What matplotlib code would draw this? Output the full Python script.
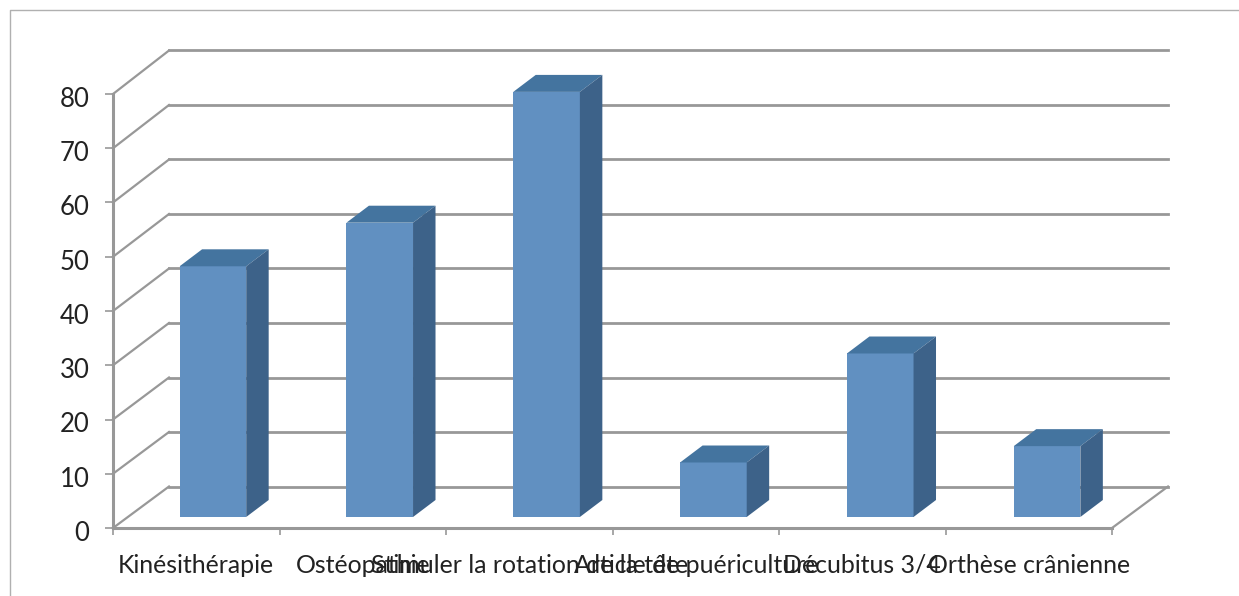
import matplotlib
matplotlib.use("Agg")
import matplotlib.pyplot as plt
import numpy as np
from matplotlib.lines import Line2D
from matplotlib.transforms import ScaledTranslation

categories = ['Kinésithérapie', 'Ostéopathie', 'Stimuler la rotation de la tête',
              'Article de puériculture', 'Décubitus 3/4', 'Orthèse crânienne']
values = [46, 54, 78, 10, 30, 13]
y_ticks = [0, 10, 20, 30, 40, 50, 60, 70, 80]

W, H = 1239, 596
GRID = '#989898'
FRONT = '#6190C1'
TOP = '#44749F'
SIDE = '#3D6289'

plt.rcParams['font.family'] = ['Lato', 'DejaVu Sans']

fig = plt.figure(figsize=(W / 100, H / 100), dpi=100)
# plot floor front edge runs 113..1112 px, value 0..80 runs 528..94 px
ax = fig.add_axes([113 / W, 1 - 528 / H, (1112 - 113) / W, (528 - 94) / H])
ax.set_xlim(0, len(categories))
ax.set_ylim(0, 80)
ax.patch.set_visible(False)

# depth of the fake 3d box, in data units
depth_x = 56 / (999 / 6)
depth_y = 41.5 / (434 / 80)
# back wall and bars are drawn a little taller than the front axis
back_scale = 436 / 434

# back wall and diagonal grid
for v in y_ticks:
    back_y = v * back_scale + depth_y
    ax.plot([0, depth_x], [v, back_y], color=GRID, lw=1.6, clip_on=False, zorder=1)
    ax.plot([depth_x, len(categories) + depth_x], [back_y, back_y],
            color=GRID, lw=2.0, clip_on=False, zorder=1)
ax.plot([len(categories), len(categories) + depth_x], [0, depth_y],
        color=GRID, lw=1.6, clip_on=False, zorder=1)

# bars: front face, then top and side faces
bar_w = 0.4
bar_dx = 0.135
bar_dy = 3.13
base = 2.03
heights = np.array(values) * back_scale
centers = np.arange(len(categories)) * 1.002 + 0.6
ax.bar(centers, heights, width=bar_w, bottom=base, color=FRONT, clip_on=False, zorder=3)
for c, h in zip(centers, heights):
    left, right = c - bar_w / 2, c + bar_w / 2
    top = base + h
    ax.fill([left, right, right + bar_dx, left + bar_dx],
            [top, top, top + bar_dy, top + bar_dy], color=TOP, lw=0, clip_on=False, zorder=3)
    ax.fill([right, right + bar_dx, right + bar_dx, right],
            [base, base + bar_dy, top + bar_dy, top], color=SIDE, lw=0, clip_on=False, zorder=3)

for side in ['top', 'right']:
    ax.spines[side].set_visible(False)
for side in ['left', 'bottom']:
    ax.spines[side].set_color(GRID)
    ax.spines[side].set_linewidth(2.2)

ax.set_yticks(y_ticks)
ax.set_xticks(np.arange(len(categories) + 1))
ax.set_xticklabels([])
ax.set_xticks(np.arange(len(categories)) + 0.5, minor=True)
ax.set_xticklabels(categories, minor=True)
ax.tick_params(axis='x', which='major', length=5, width=1.2, color=GRID)
ax.tick_params(axis='x', which='minor', length=0, pad=18.5, labelsize=17.9, labelcolor='#222222')
ax.tick_params(axis='y', length=6, width=1.2, color=GRID, pad=11, labelsize=18.5, labelcolor='#222222')

# lato numbers sit high against the ticks, nudge them down
nudge = ScaledTranslation(0, -2 / 72, fig.dpi_scale_trans)
for label in ax.get_yticklabels():
    label.set_transform(label.get_transform() + nudge)

# outer chart border, only left and top are inside the crop
fig.add_artist(Line2D([9.5 / W, 9.5 / W, 1.0], [0, 1 - 9.5 / H, 1 - 9.5 / H],
                      color='#B0B0B0', lw=1.0))

fig.savefig('out.png', dpi=100)
